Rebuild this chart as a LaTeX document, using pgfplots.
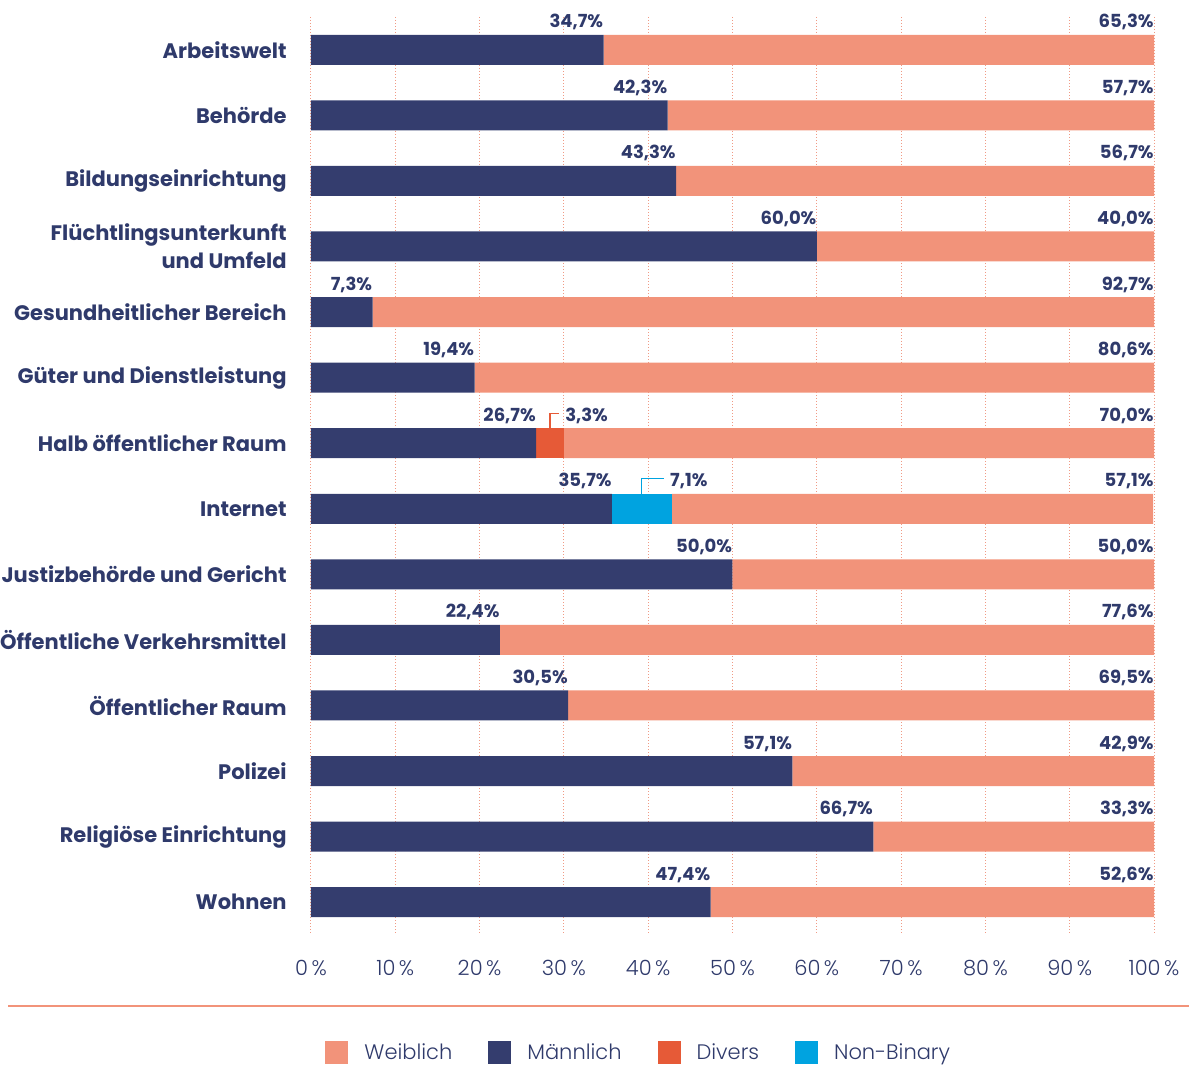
\documentclass[border=0pt]{standalone}
\usepackage{pgfplots}
\pgfplotsset{compat=1.18}
\usepackage{fontspec}
\setmainfont{Poppins}
\newfontfamily\plight{Poppins Light}
\definecolor{navy}{HTML}{343D6E}
\definecolor{txt}{HTML}{2F3A6B}
\definecolor{salmon}{HTML}{F2937A}
\definecolor{divers}{HTML}{E65A37}
\definecolor{nb}{HTML}{00A3E0}
\definecolor{gridc}{HTML}{F09A84}
\pgfplotsset{
  frame/.style={
    scale only axis, width=421.5pt, height=459pt,
    xmin=0, xmax=100, ymin=-0.5, ymax=13.5, y dir=reverse,
    clip=false,
  }
}
\begin{document}
\begin{tikzpicture}
\begin{axis}[
  frame,
  name=ax,
  xbar stacked, bar width=15pt,
  axis line style={draw=none},
  major tick length=0pt,
  xtick={0,10,...,100},
  xticklabels={0\,\%,10\,\%,20\,\%,30\,\%,40\,\%,50\,\%,60\,\%,70\,\%,80\,\%,90\,\%,100\,\%},
  xticklabel style={font=\plight\fontsize{10.5}{12}\selectfont, text=txt, anchor=base, yshift=-20pt},
  ytick={0,...,13},
  yticklabels={Arbeitswelt,Behörde,Bildungseinrichtung,{Flüchtlingsunterkunft\\und Umfeld},Gesundheitlicher Bereich,Güter und Dienstleistung,Halb öffentlicher Raum,Internet,Justizbehörde und Gericht,Öffentliche Verkehrsmittel,Öffentlicher Raum,Polizei,Religiöse Einrichtung,Wohnen},
  yticklabel style={font=\bfseries\fontsize{10.5}{14}\selectfont, text=txt, anchor=east, align=right, inner sep=0pt, xshift=-12pt},
  xmajorgrids,
  major grid style={draw=gridc, line width=0.5pt, dash pattern=on 0.5pt off 1pt},
  legend columns=4,
  legend style={draw=none, fill=none, at={(axis description cs:0.39,-0.1285)}, anchor=center,
    font=\plight\fontsize{10.5}{12}\selectfont, text=txt,
    /tikz/every even column/.append style={column sep=16pt}},
  legend image code/.code={\fill[#1, draw=none] (0pt,-5.75pt) rectangle (11.5pt,5.75pt);},
]
% Maennlich
\addplot+[forget plot, fill=navy, draw=none] coordinates {
(34.7,0) (42.3,1) (43.3,2) (60.0,3) (7.3,4) (19.4,5) (26.7,6) (35.7,7)
(50.0,8) (22.4,9) (30.5,10) (57.1,11) (66.7,12) (47.4,13)};
% Divers
\addplot+[forget plot, fill=divers, draw=none] coordinates {
(0,0) (0,1) (0,2) (0,3) (0,4) (0,5) (3.3,6) (0,7)
(0,8) (0,9) (0,10) (0,11) (0,12) (0,13)};
% Non-Binary
\addplot+[forget plot, fill=nb, draw=none] coordinates {
(0,0) (0,1) (0,2) (0,3) (0,4) (0,5) (0,6) (7.1,7)
(0,8) (0,9) (0,10) (0,11) (0,12) (0,13)};
% Weiblich
\addplot+[forget plot, fill=salmon, draw=none] coordinates {
(65.3,0) (57.7,1) (56.7,2) (40.0,3) (92.7,4) (80.6,5) (70.0,6) (57.1,7)
(50.0,8) (77.6,9) (69.5,10) (42.9,11) (33.3,12) (52.6,13)};
\addlegendimage{fill=salmon, draw=none}
\addlegendimage{fill=navy, draw=none}
\addlegendimage{fill=divers, draw=none}
\addlegendimage{fill=nb, draw=none}
\legend{\hspace{6pt}Weiblich,\hspace{6pt}Männlich,\hspace{6pt}Divers,\hspace{6pt}Non-Binary}
% separator
\draw[salmon, line width=0.7pt] ([yshift=-35.5pt]axis description cs:-0.3594,0) -- ([yshift=-35.5pt]axis description cs:1.0415,0);
\end{axis}
% value labels (overlay axis, not stacked)
\begin{axis}[
  frame, hide axis,
  point meta=explicit symbolic,
  nodes near coords,
  every node near coord/.append style={font=\bfseries\fontsize{9}{10}\selectfont, text=txt, inner sep=0pt, anchor=base east, yshift=11pt},
]
\addplot[draw=none, mark=none] coordinates {
(34.7,0) [{34,7\%}] (42.3,1) [{42,3\%}] (43.3,2) [{43,3\%}] (60.0,3) [{60,0\%}]
(7.3,4) [{7,3\%}] (19.4,5) [{19,4\%}] (26.7,6) [{26,7\%}] (35.7,7) [{35,7\%}]
(50.0,8) [{50,0\%}] (22.4,9) [{22,4\%}] (30.5,10) [{30,5\%}] (57.1,11) [{57,1\%}]
(66.7,12) [{66,7\%}] (47.4,13) [{47,4\%}]};
\addplot[draw=none, mark=none] coordinates {
(100,0) [{65,3\%}] (100,1) [{57,7\%}] (100,2) [{56,7\%}] (100,3) [{40,0\%}]
(100,4) [{92,7\%}] (100,5) [{80,6\%}] (100,6) [{70,0\%}] (100,7) [{57,1\%}]
(100,8) [{50,0\%}] (100,9) [{77,6\%}] (100,10) [{69,5\%}] (100,11) [{42,9\%}]
(100,12) [{33,3\%}] (100,13) [{52,6\%}]};
\addplot[draw=none, mark=none, every node near coord/.append style={anchor=base west, xshift=0.5pt}] coordinates {
(30.0,6) [{3,3\%}]};
\addplot[draw=none, mark=none, every node near coord/.append style={anchor=base west, xshift=-1pt}] coordinates {
(42.8,7) [{7,1\%}]};
% leader lines
\draw[divers, line width=0.6pt] ([yshift=7.5pt]axis cs:28.35,6) |- ([xshift=-2.5pt,yshift=15pt]axis cs:30,6);
\draw[nb, line width=0.6pt] ([yshift=7.5pt]axis cs:39.25,7) |- ([xshift=-4pt,yshift=15pt]axis cs:42.8,7);
\end{axis}
\pgfresetboundingbox
\path ([xshift=-155.5pt,yshift=-66.5pt]ax.south west) rectangle ([xshift=17.5pt,yshift=8.5pt]ax.north east);
\end{tikzpicture}
\end{document}
